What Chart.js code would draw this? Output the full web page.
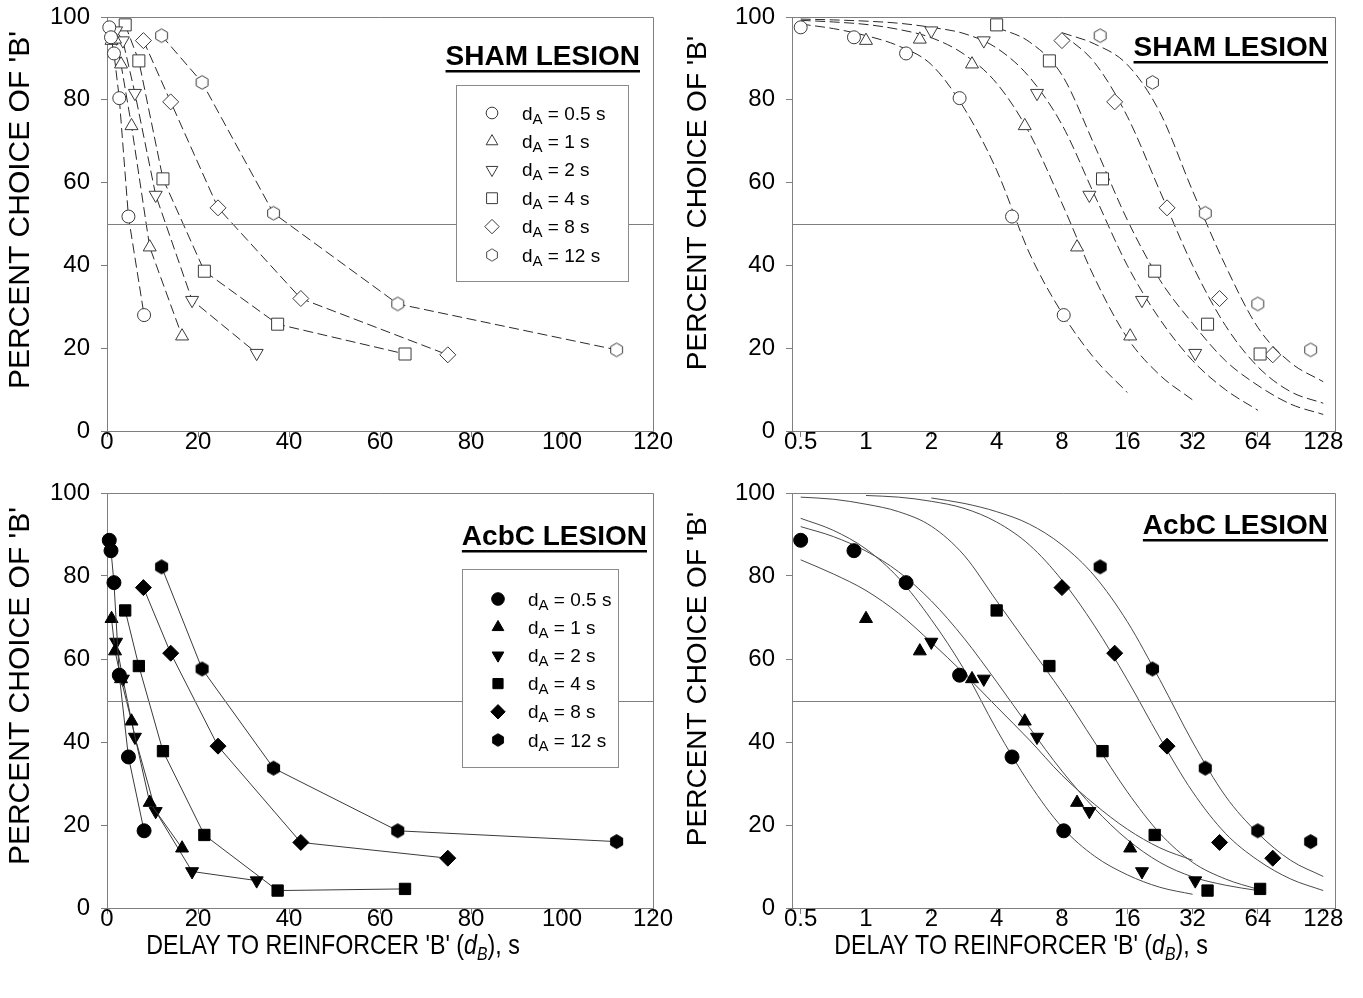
<!DOCTYPE html>
<html><head><meta charset="utf-8">
<script src="https://cdn.jsdelivr.net/npm/chart.js@4.4.1/dist/chart.umd.min.js"></script>
<style>
html,body{margin:0;padding:0;background:#fff;}
#wrap{position:relative;width:1363px;height:998px;overflow:hidden;}
canvas{position:absolute;}
</style></head><body>
<div id="wrap">
<canvas id="tl" width="681" height="470" style="left:0;top:0;width:681px;height:470px"></canvas>
<canvas id="tr" width="682" height="470" style="left:681px;top:0;width:682px;height:470px"></canvas>
<canvas id="bl" width="681" height="528" style="left:0;top:470px;width:681px;height:528px"></canvas>
<canvas id="br" width="682" height="528" style="left:681px;top:470px;width:682px;height:528px"></canvas>
</div>
<script>
// ---------------- DATA ----------------
const DA_LABELS = ['0.5', '1', '2', '4', '8', '12'];
const Y_TICKS = [0, 20, 40, 60, 80, 100];
const LIN_X_TICKS = [0, 20, 40, 60, 80, 100, 120];
const LOG_X_TICKS = [0.5, 1, 2, 4, 8, 16, 32, 64, 128];
const LOG_X_LABELS = ['0.5', '1', '2', '4', '8', '16', '32', '64', '128'];
const INDIFFERENCE = 50;

// delays to reinforcer B (s) for each d_A
const DB_05 = [0.5, 0.88, 1.53, 2.70, 4.71, 8.15];
const DB_1  = [1, 1.77, 3.08, 5.39, 9.39, 16.5];
const DB_2  = [2, 3.49, 6.14, 10.7, 18.7, 32.9];
const DB_4  = [4, 7.0, 12.3, 21.4, 37.5, 65.5];
const DB_8  = [8, 14, 24.4, 42.6, 74.9];
const DB_12 = [12, 20.9, 36.6, 63.9, 112];

// SHAM lesion: percent choice of B
const SHAM_05 = [97.5, 95.1, 91.2, 80.4, 51.8, 28.0];
const SHAM_1  = [94.3, 94.6, 88.6, 73.7, 44.4, 22.9];
const SHAM_2  = [96.7, 94.3, 81.6, 57.0, 31.6, 18.8];
const SHAM_4  = [98.1, 89.4, 60.9, 38.6, 25.8, 18.6];
const SHAM_8  = [94.3, 79.5, 53.9, 32.0, 18.4];
const SHAM_12 = [95.5, 84.2, 52.6, 30.7, 19.6];

// AcbC lesion: percent choice of B
const ACBC_05 = [88.6, 86.1, 78.4, 56.1, 36.4, 18.6];
const ACBC_1  = [69.7, 61.9, 55.2, 45.0, 25.4, 14.4];
const ACBC_2  = [64.1, 55.2, 41.2, 23.3, 8.8, 6.6];
const ACBC_4  = [71.7, 58.3, 37.8, 17.6, 4.2, 4.6];
const ACBC_8  = [77.2, 61.4, 39.0, 15.8, 12.0];
const ACBC_12 = [82.2, 57.6, 33.7, 18.6, 16.0];

// fitted curves at half-octave delays
const FIT_GRID = [0.5, 0.707, 1, 1.414, 2, 2.83, 4, 5.66, 8, 11.3, 16, 22.6, 32, 45.3, 64, 90.5, 128];
const SHAM_FIT_START = [0, 0, 0, 6, 8, 8];
const SHAM_FIT_05 = [98.3, 97.2, 95.5, 93.0, 88.5, 78.0, 63.0, 43.0, 28.5, 17.5, 9.3];
const SHAM_FIT_1  = [99.2, 98.8, 98.2, 97.0, 95.0, 91.0, 84.0, 72.0, 55.0, 37.0, 22.5, 13.5, 7.5];
const SHAM_FIT_2  = [99.5, 99.3, 99.0, 98.5, 97.5, 96.0, 92.5, 85.5, 74.0, 57.0, 40.0, 27.0, 17.0, 10.0, 5.0];
const SHAM_FIT_4  = [97.5, 94.0, 86.0, 69.0, 51.0, 36.5, 26.0, 17.0, 11.0, 6.5, 4.0];
const SHAM_FIT_8  = [96.0, 89.0, 76.0, 58.0, 40.0, 25.5, 15.5, 9.5, 6.7];
const SHAM_FIT_12 = [96.2, 93.5, 88.5, 77.0, 58.0, 40.0, 25.0, 16.5, 11.9];

const ACBC_FIT_START = [0, 0, 0, 0, 2, 4];
const ACBC_FIT_05 = [93.9, 91.0, 86.5, 79.5, 69.5, 57.5, 43.0, 30.0, 19.5, 12.5, 8.0, 5.0, 3.3];
const ACBC_FIT_1  = [83.9, 80.5, 76.5, 71.0, 64.0, 56.5, 48.5, 40.5, 32.0, 25.0, 19.0, 14.5, 11.5];
const ACBC_FIT_2  = [91.9, 89.5, 86.0, 81.0, 74.0, 65.0, 54.5, 43.5, 33.0, 24.0, 16.5, 11.0, 7.5, 5.5, 4.2];
const ACBC_FIT_4  = [99.0, 98.5, 97.3, 95.5, 92.0, 85.0, 74.0, 63.0, 52.0, 40.0, 28.0, 18.0, 11.0, 7.0, 4.5];
const ACBC_FIT_8  = [99.4, 99.0, 98.0, 96.3, 93.0, 87.5, 79.0, 68.0, 55.0, 41.0, 28.0, 18.0, 11.5, 7.0, 4.2];
const ACBC_FIT_12 = [98.8, 97.5, 95.5, 92.5, 87.5, 80.0, 69.0, 55.0, 40.0, 27.0, 18.0, 11.5, 7.6];

// ---------------- HELPERS ----------------
const FONT = "'Liberation Sans', Arial, sans-serif";
const AXIS_COLOR = '#7f7f7f';

function hexImg(r, fill, stroke) {
  const s = Math.ceil(2 * r + 3);
  const c = document.createElement('canvas');
  c.width = s; c.height = s;
  const g = c.getContext('2d');
  g.beginPath();
  for (let i = 0; i < 6; i++) {
    const a = Math.PI / 3 * i - Math.PI / 2;
    const x = s / 2 + r * Math.cos(a), y = s / 2 + r * Math.sin(a);
    if (i === 0) g.moveTo(x, y); else g.lineTo(x, y);
  }
  g.closePath();
  g.fillStyle = fill; g.fill();
  g.strokeStyle = stroke; g.lineWidth = 1; g.stroke();
  return c;
}

function markers(filled) {
  const fill = filled ? '#000' : '#fff';
  const stroke = filled ? '#000' : '#3a3a3a';
  return [
    {pointStyle: 'circle', radius: filled ? 7 : 6.5, rotation: 0},
    {pointStyle: 'triangle', radius: 7.5, rotation: 0},
    {pointStyle: 'triangle', radius: 7.5, rotation: 180},
    {pointStyle: 'rect', radius: filled ? 8 : 8.5, rotation: 0},
    {pointStyle: 'rectRot', radius: 8, rotation: 0},
    {pointStyle: hexImg(filled ? 7 : 6.8, fill, stroke), radius: 7, rotation: 0}
  ].map(m => Object.assign(m, {fill, stroke}));
}

function pts(xs, ys) { return ys.map((y, i) => ({x: xs[i], y})); }

const decor = {
  id: 'decor',
  afterDatasetsDraw(chart) {
    const o = chart.options.plugins.decor;
    const ctx = chart.ctx;
    const a = chart.chartArea;
    ctx.save();
    // frame (top + right) and 50% line
    ctx.strokeStyle = AXIS_COLOR; ctx.lineWidth = 1;
    ctx.beginPath();
    ctx.moveTo(a.left, a.top + 0.5); ctx.lineTo(a.right + 0.5, a.top + 0.5);
    ctx.lineTo(a.right + 0.5, a.bottom);
    const y50 = Math.round(chart.scales.y.getPixelForValue(INDIFFERENCE)) + 0.5;
    ctx.moveTo(a.left, y50); ctx.lineTo(a.right, y50);
    ctx.stroke();
    // legend box
    if (o.legend) {
      const L = o.legend;
      const bx = a.left + L.x, by = a.top + L.y;
      ctx.fillStyle = '#fff';
      ctx.fillRect(bx, by, L.w, L.h);
      ctx.strokeStyle = '#8a8a8a';
      ctx.strokeRect(bx + 0.5, by + 0.5, L.w, L.h);
      const ms = o.markers;
      DA_LABELS.forEach((lab, i) => {
        const cy = by + L.first + i * L.step;
        const cx = bx + L.mx;
        const m = ms[i];
        ctx.fillStyle = m.fill; ctx.strokeStyle = m.stroke; ctx.lineWidth = 1;
        const r = m.radius * L.scale;
        if (typeof m.pointStyle === 'string') {
          Chart.helpers.drawPoint(ctx, {pointStyle: m.pointStyle, radius: r, rotation: m.rotation, borderWidth: 1}, cx, cy);
        } else {
          const im = m.pointStyle;
          const w = im.width * L.scale;
          ctx.drawImage(im, cx - w / 2, cy - w / 2, w, w);
        }
        // text: d_A = x s
        ctx.fillStyle = '#000';
        ctx.textBaseline = 'alphabetic';
        ctx.textAlign = 'left';
        let tx = bx + L.tx;
        const base = cy + 6.5;
        ctx.font = `19px ${FONT}`;
        ctx.fillText('d', tx, base); tx += ctx.measureText('d').width;
        ctx.font = `15px ${FONT}`;
        ctx.fillText('A', tx, base + 4); tx += ctx.measureText('A').width;
        ctx.font = `19px ${FONT}`;
        ctx.fillText(' = ' + lab + ' s', tx, base);
      });
    }
    // panel title
    if (o.title) {
      const T = o.title;
      ctx.font = `bold 28px ${FONT}`;
      ctx.fillStyle = '#000';
      ctx.textAlign = 'right';
      ctx.textBaseline = 'alphabetic';
      ctx.fillText(T.text, T.right, T.base);
      const w = ctx.measureText(T.text).width;
      ctx.fillRect(T.right - w, T.base + 5, w, 2.5);
    }
    // y-axis title
    const Y = o.yTitle;
    ctx.save();
    ctx.translate(Y.x, Y.y);
    ctx.rotate(-Math.PI / 2);
    ctx.font = `${Y.size}px ${FONT}`;
    ctx.fillStyle = '#000';
    ctx.textAlign = 'center';
    ctx.textBaseline = 'middle';
    ctx.fillText("PERCENT CHOICE OF 'B'", 0, 0);
    ctx.restore();
    // x-axis title (condensed type, as in the original)
    if (o.xTitle) {
      const X = o.xTitle;
      const parts = [
        {t: "DELAY TO REINFORCER 'B' (", f: `${X.size}px ${FONT}`, dy: 0},
        {t: 'd', f: `italic ${X.size}px ${FONT}`, dy: 0},
        {t: 'B', f: `italic ${Math.round(X.size * 0.68)}px ${FONT}`, dy: 6},
        {t: '), s', f: `${X.size}px ${FONT}`, dy: 0}
      ];
      let total = 0;
      parts.forEach(p => { ctx.font = p.f; p.w = ctx.measureText(p.t).width; total += p.w; });
      ctx.save();
      ctx.translate(X.cx, X.base);
      ctx.scale(X.squeeze, 1);
      let x = -total / 2;
      ctx.fillStyle = '#000';
      ctx.textAlign = 'left';
      ctx.textBaseline = 'alphabetic';
      parts.forEach(p => { ctx.font = p.f; ctx.fillText(p.t, x, p.dy); x += p.w; });
      ctx.restore();
    }
    ctx.restore();
  }
};

function makeChart(id, cfg) {
  const cv = document.getElementById(id);
  const W = cv.width, H = cv.height;
  const A = cfg.area;
  const isLog = cfg.xType === 'logarithmic';
  return new Chart(cv.getContext('2d'), {
    type: 'scatter',
    data: {datasets: cfg.datasets},
    options: {
      responsive: false, animation: false, devicePixelRatio: 1,
      layout: {padding: {left: 0, top: A.top, right: W - A.right, bottom: 0}},
      plugins: {
        legend: {display: false}, tooltip: {enabled: false},
        decor: {legend: cfg.legend, title: cfg.title, yTitle: cfg.yTitle, xTitle: cfg.xTitle, markers: cfg.markers}
      },
      scales: {
        x: {
          type: cfg.xType,
          min: isLog ? 0.456 : 0, max: isLog ? 145 : 120,
          afterBuildTicks: s => { s.ticks = (isLog ? LOG_X_TICKS : LIN_X_TICKS).map(v => ({value: v})); },
          afterFit: s => { s.height = H - A.bottom; s.paddingLeft = 0; s.paddingRight = 0; },
          ticks: {
            autoSkip: false, maxRotation: 0, minRotation: 0, color: '#000', padding: cfg.xTickPad,
            font: {family: FONT, size: cfg.tickSize},
            callback: (v, i) => isLog ? LOG_X_LABELS[i] : String(LIN_X_TICKS[i])
          },
          grid: {drawOnChartArea: false, drawTicks: true, tickLength: 6, color: AXIS_COLOR},
          border: {color: AXIS_COLOR, width: 1}
        },
        y: {
          type: 'linear', min: 0, max: 100,
          afterBuildTicks: s => { s.ticks = Y_TICKS.map(v => ({value: v})); },
          afterFit: s => { s.width = A.left; s.paddingTop = 0; s.paddingBottom = 0; },
          ticks: {color: '#000', padding: cfg.yTickPad, font: {family: FONT, size: cfg.tickSize},
                  callback: (v, i) => String(Y_TICKS[i])},
          grid: {drawOnChartArea: false, drawTicks: true, tickLength: 6, color: AXIS_COLOR},
          border: {color: AXIS_COLOR, width: 1}
        }
      }
    },
    plugins: [decor]
  });
}

function pointSet(xs, ys, m, lineOpts) {
  const ds = {
    data: pts(xs, ys),
    pointStyle: m.pointStyle, pointRadius: m.radius, pointRotation: m.rotation,
    pointBackgroundColor: m.fill, pointBorderColor: m.stroke, pointBorderWidth: 1,
    pointHoverRadius: m.radius,
    showLine: !!lineOpts, order: 0, clip: false
  };
  if (lineOpts) Object.assign(ds, {borderColor: lineOpts.color, borderWidth: 1, borderDash: lineOpts.dash || [], tension: 0});
  return ds;
}
function fitSet(start, ys, color, dash) {
  return {
    data: pts(FIT_GRID.slice(start, start + ys.length), ys),
    showLine: true, pointRadius: 0, pointHoverRadius: 0,
    borderColor: color, borderWidth: 1, borderDash: dash, cubicInterpolationMode: 'monotone', order: 1
  };
}

const XS = [DB_05, DB_1, DB_2, DB_4, DB_8, DB_12];
const SHAM = [SHAM_05, SHAM_1, SHAM_2, SHAM_4, SHAM_8, SHAM_12];
const ACBC = [ACBC_05, ACBC_1, ACBC_2, ACBC_4, ACBC_8, ACBC_12];
const SHAM_FITS = [SHAM_FIT_05, SHAM_FIT_1, SHAM_FIT_2, SHAM_FIT_4, SHAM_FIT_8, SHAM_FIT_12];
const ACBC_FITS = [ACBC_FIT_05, ACBC_FIT_1, ACBC_FIT_2, ACBC_FIT_4, ACBC_FIT_8, ACBC_FIT_12];

const openM = markers(false), fillM = markers(true);
const DASH = [10, 4.5];

// ---------------- CHARTS ----------------
makeChart('tl', {
  xType: 'linear', area: {left: 107, top: 17, right: 653, bottom: 431},
  tickSize: 24, xTickPad: -9, yTickPad: 11,
  markers: openM,
  datasets: SHAM.map((ys, i) => pointSet(XS[i], ys, openM[i], {color: '#2a2a2a', dash: DASH})),
  legend: {x: 349, y: 68, w: 172, h: 196, mx: 36, tx: 66, first: 28, step: 28.4, scale: 0.9},
  title: {text: 'SHAM LESION', right: 640, base: 65},
  yTitle: {x: 21, y: 210, size: 30}
});
makeChart('tr', {
  xType: 'logarithmic', area: {left: 111, top: 17, right: 654, bottom: 431},
  tickSize: 24, xTickPad: -9, yTickPad: 11,
  markers: openM,
  datasets: SHAM_FITS.map((ys, i) => fitSet(SHAM_FIT_START[i], ys, '#2a2a2a', DASH))
    .concat(SHAM.map((ys, i) => pointSet(XS[i], ys, openM[i], null))),
  title: {text: 'SHAM LESION', right: 647, base: 56},
  yTitle: {x: 17, y: 203, size: 28}
});
makeChart('bl', {
  xType: 'linear', area: {left: 107, top: 23, right: 653, bottom: 438},
  tickSize: 24, xTickPad: -9, yTickPad: 11,
  markers: fillM,
  datasets: ACBC.map((ys, i) => pointSet(XS[i], ys, fillM[i], {color: '#3a3a3a'})),
  legend: {x: 355, y: 76, w: 156, h: 198, mx: 36, tx: 66, first: 30, step: 28.2, scale: 0.9},
  title: {text: 'AcbC LESION', right: 647, base: 75},
  yTitle: {x: 21, y: 216, size: 30},
  xTitle: {cx: 333, base: 484, size: 28, squeeze: 0.83}
});
makeChart('br', {
  xType: 'logarithmic', area: {left: 111, top: 23, right: 654, bottom: 438},
  tickSize: 24, xTickPad: -9, yTickPad: 11,
  markers: fillM,
  datasets: ACBC_FITS.map((ys, i) => fitSet(ACBC_FIT_START[i], ys, '#4a4a4a', []))
    .concat(ACBC.map((ys, i) => pointSet(XS[i], ys, fillM[i], null))),
  title: {text: 'AcbC LESION', right: 647, base: 64},
  yTitle: {x: 17, y: 209, size: 28},
  xTitle: {cx: 340, base: 484, size: 28, squeeze: 0.83}
});
</script>
</body></html>
